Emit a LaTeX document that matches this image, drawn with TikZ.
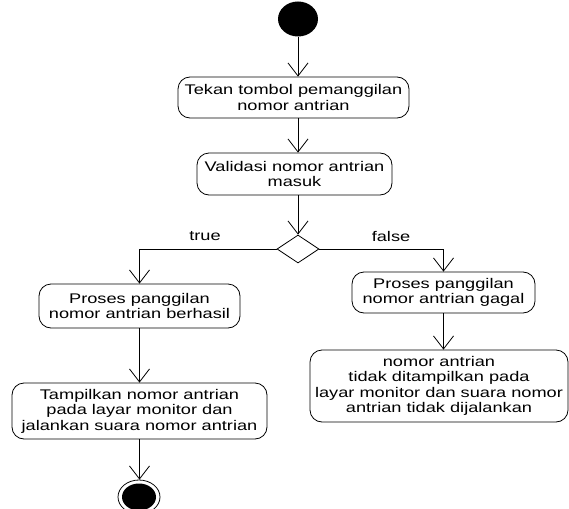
\documentclass[tikz,border=0pt]{standalone}
\usepackage{fontspec}
\setmainfont{Liberation Sans}[FakeStretch=1.3]
\usetikzlibrary{arrows.meta,shapes.geometric}
\begin{document}
\begin{tikzpicture}[x=1pt,y=-1pt,
  flow/.style={draw, line width=0.8pt, -{Straight Barb[length=13pt,width=20pt,line width=0.8pt]}},
  act/.style={draw, line width=0.8pt, rounded corners=12pt, align=center,
    inner sep=0pt, font=\fontsize{14}{15.5}\selectfont},
  lbl/.style={font=\fontsize{14}{15.5}\selectfont}]
\useasboundingbox (0,0) rectangle (569,508);

% start and end states
\node (start) [ellipse, fill=black, minimum width=40pt, minimum height=35pt, inner sep=0pt] at (298,19) {};
\node (stop) [ellipse, draw, line width=0.8pt, minimum width=42pt, minimum height=34pt, inner sep=0pt] at (139,497) {};
\node (stopin) [ellipse, fill=black, minimum width=34pt, minimum height=27pt, inner sep=0pt] at (139,497) {};

% activities
\node (tekan) [act, minimum width=231pt, minimum height=41pt] at (293.5,97.5)
  {Tekan tombol pemanggilan\\nomor antrian};
\node (valid) [act, minimum width=195pt, minimum height=42pt] at (294.5,174)
  {Validasi nomor antrian\\masuk};
\node (dec) [diamond, draw, line width=0.8pt, minimum width=42pt, minimum height=28pt, inner sep=0pt, aspect=1.5] at (298,249) {};
\node (ok) [act, minimum width=201pt, minimum height=44pt] at (139.5,306)
  {Proses panggilan\\nomor antrian berhasil};
\node (fail) [act, minimum width=183pt, minimum height=41pt] at (443.5,292.5)
  {Proses panggilan\\nomor antrian gagal};
\node (show) [act, minimum width=255pt, minimum height=56pt] at (139.5,411)
  {Tampilkan nomor antrian\\pada layar monitor dan\\jalankan suara nomor antrian};
\node (noshow) [act, minimum width=258pt, minimum height=72pt] at (439,386)
  {nomor antrian\\tidak ditampilkan pada\\layar monitor dan suara nomor\\antrian tidak dijalankan};

% guard labels
\node (ltrue) [lbl] at (205,236) {true};
\node (lfalse) [lbl] at (391,236) {false};

% transitions
\draw[flow] (start.south) -- (start.south |- tekan.north);
\draw[flow] (start.south |- tekan.south) -- (start.south |- valid.north);
\draw[flow] (start.south |- valid.south) -- (dec.north);
\draw[flow] (dec.west) -| (ok.north);
\draw[flow] (dec.east) -| (fail.north);
\draw[flow] (ok.south) -- (ok.south |- show.north);
\draw[flow] (fail.south) -- (fail.south |- noshow.north);
\draw[flow] (show.south) -- (show.south |- stop.north);
\end{tikzpicture}
\end{document}
